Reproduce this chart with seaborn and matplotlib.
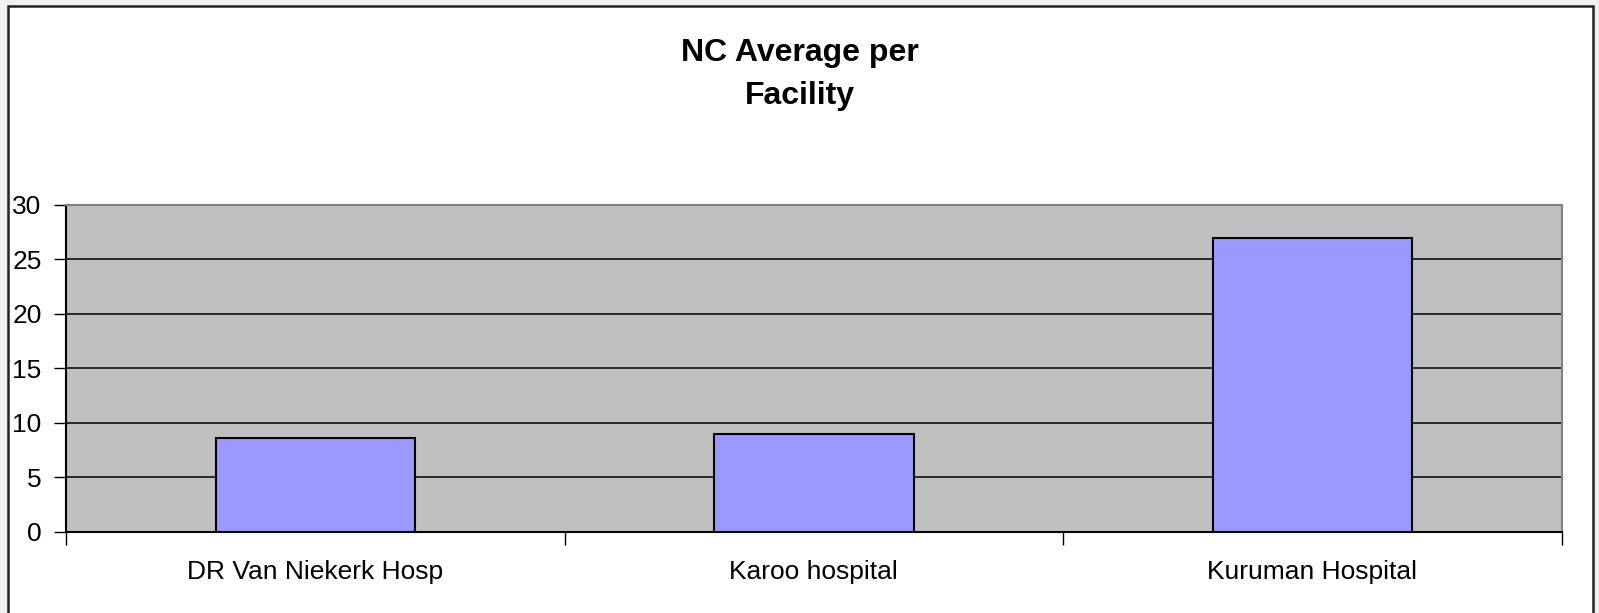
import seaborn as sns
import matplotlib.pyplot as plt
import pandas as pd
from matplotlib.patches import Rectangle
from matplotlib.ticker import FixedLocator, NullFormatter

# Dados
facilities = ['DR Van Niekerk Hosp', 'Karoo hospital', 'Kuruman Hospital']
nc_average = [8.6, 9.0, 27.0]
y_ticks = [0, 5, 10, 15, 20, 25, 30]

df = pd.DataFrame({'facility': facilities, 'nc': nc_average})

sns.set_style('white')
plt.rcParams['font.family'] = ['Liberation Sans', 'DejaVu Sans']
plt.rcParams['text.color'] = 'black'
plt.rcParams['xtick.color'] = 'black'
plt.rcParams['ytick.color'] = 'black'

fig = plt.figure(figsize=(15.99, 6.13), dpi=100)
fig.patch.set_facecolor('#f0f0f0')

# Moldura branca do grafico
frame = Rectangle((7.7 / 1599, -0.05), (1592.7 - 7.7) / 1599, 1.05 - 6.5 / 613,
                  transform=fig.transFigure, facecolor='white',
                  edgecolor='#222222', linewidth=1.8, zorder=-10)
fig.patches.append(frame)

ax = fig.add_axes([66 / 1599, 1 - 531.7 / 613, (1561.7 - 66) / 1599, (531.7 - 205) / 613])
ax.set_facecolor('#c0c0c0')

sns.barplot(data=df, x='facility', y='nc', color='#9999ff', saturation=1,
            edgecolor='black', linewidth=1.5, width=0.4, ax=ax, zorder=3)

ax.set_ylim(0, 30)
ax.set_xlim(-0.5, 2.5)
ax.set_yticks(y_ticks)
ax.yaxis.grid(True, color='black', linewidth=1.1)
ax.set_axisbelow(True)
ax.set(xlabel='', ylabel='')

# Ticks
ax.tick_params(axis='y', direction='out', length=9, width=1, color='black',
               pad=8.5, labelsize=19, left=True, labelcolor='black')
ax.tick_params(axis='x', which='major', length=0, pad=20.5, labelsize=19,
               bottom=True, labelcolor='black')
ax.xaxis.set_minor_locator(FixedLocator([-0.5, 0.5, 1.5, 2.5]))
ax.xaxis.set_minor_formatter(NullFormatter())
ax.tick_params(axis='x', which='minor', direction='out', length=9, width=1,
               color='black', bottom=True)

for s in ['top', 'right']:
    ax.spines[s].set_color('#808080')
    ax.spines[s].set_linewidth(1.5)
for s in ['left', 'bottom']:
    ax.spines[s].set_color('black')
    ax.spines[s].set_linewidth(1.5)

fig.text(800 / 1599, 1 - 74.5 / 613, 'NC Average per\nFacility', ha='center', va='center',
         fontsize=23, fontweight='bold', linespacing=1.6, color='black')

fig.savefig('out.png', dpi=100, facecolor=fig.get_facecolor())
